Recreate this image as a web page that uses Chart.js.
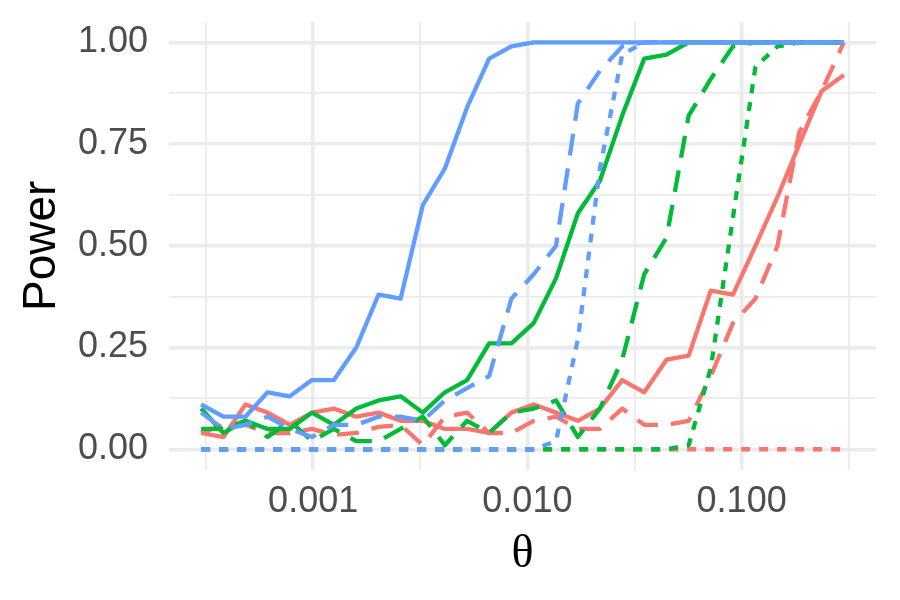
<!DOCTYPE html>
<html>
<head>
<meta charset="utf-8">
<script src="https://cdn.jsdelivr.net/npm/chart.js@4"></script>
<style>
  html, body { margin: 0; padding: 0; background: #fff; }
  #wrap { width: 900px; height: 600px; }
</style>
</head>
<body>
<div id="wrap"><canvas id="powerChart"></canvas></div>
<script>
// grid of theta values (log spaced)
const theta = [0.0003, 0.000381, 0.000483, 0.000613, 0.000778, 0.000987, 0.00125, 0.00159, 0.00202, 0.00256,
               0.00325, 0.00412, 0.00523, 0.00663, 0.00842, 0.0107, 0.0136, 0.0172, 0.0218, 0.0277,
               0.0351, 0.0446, 0.0566, 0.0718, 0.0911, 0.116, 0.147, 0.186, 0.236, 0.3];

// power curves
const redSolid    = [0.04, 0.03, 0.11, 0.09, 0.06, 0.09, 0.10, 0.08, 0.09, 0.07, 0.07, 0.05, 0.05, 0.04, 0.09,
                     0.11, 0.09, 0.07, 0.10, 0.17, 0.14, 0.22, 0.23, 0.39, 0.38, 0.50, 0.62, 0.75, 0.88, 0.92];
const redDashed   = [0.04, 0.06, 0.06, 0.04, 0.04, 0.05, 0.035, 0.04, 0.055, 0.06, 0.01, 0.08, 0.09, 0.04, 0.04,
                     0.07, 0.08, 0.05, 0.05, 0.10, 0.06, 0.06, 0.07, 0.18, 0.31, 0.37, 0.50, 0.78, 0.88, 1.00];
const redDotted   = [0, 0, 0, 0, 0, 0, 0, 0, 0, 0, 0, 0, 0, 0, 0,
                     0, 0, 0, 0, 0, 0, 0, 0, 0, 0, 0, 0, 0, 0, 0];
const greenSolid  = [0.10, 0.04, 0.07, 0.05, 0.05, 0.09, 0.06, 0.10, 0.12, 0.13, 0.09, 0.14, 0.17, 0.26, 0.26,
                     0.31, 0.42, 0.58, 0.66, 0.82, 0.96, 0.97, 1, 1, 1, 1, 1, 1, 1, 1];
const greenDashed = [0.05, 0.05, 0.07, 0.03, 0.07, 0.02, 0.05, 0.02, 0.02, 0.05, 0.08, 0.01, 0.07, 0.04, 0.09,
                     0.10, 0.12, 0.03, 0.10, 0.22, 0.43, 0.52, 0.82, 0.91, 0.99, 1, 1, 1, 1, 1];
const greenDotted = [0, 0, 0, 0, 0, 0, 0, 0, 0, 0, 0, 0, 0, 0, 0,
                     0, 0, 0, 0, 0, 0, 0, 0.01, 0.20, 0.57, 0.94, 0.99, 1, 1, 1];
const blueSolid   = [0.11, 0.08, 0.08, 0.14, 0.13, 0.17, 0.17, 0.25, 0.38, 0.37, 0.60, 0.69, 0.84, 0.96, 0.99,
                     1, 1, 1, 1, 1, 1, 1, 1, 1, 1, 1, 1, 1, 1, 1];
const blueDashed  = [0.09, 0.05, 0.06, 0.08, 0.05, 0.03, 0.06, 0.06, 0.08, 0.08, 0.07, 0.12, 0.15, 0.18, 0.37,
                     0.43, 0.50, 0.85, 0.93, 0.99, 1, 1, 1, 1, 1, 1, 1, 1, 1, 1];
const blueDotted  = [0, 0, 0, 0, 0, 0, 0, 0, 0, 0, 0, 0, 0, 0, 0,
                     0, 0.02, 0.27, 0.69, 0.97, 1, 1, 1, 1, 1, 1, 1, 1, 1, 1];

// axis ticks
const xTickValues = [0.001, 0.01, 0.1];
const xTickLabels = ['0.001', '0.010', '0.100'];
const xMinorTicks = [0.000316, 0.00316, 0.0316, 0.316];
const yTickValues = [0, 0.25, 0.5, 0.75, 1];
const yTickLabels = ['0.00', '0.25', '0.50', '0.75', '1.00'];
const yMinorTicks = [0.125, 0.375, 0.625, 0.875];

const RED = '#F8766D', GREEN = '#00BA38', BLUE = '#619CFF';
const SOLID = [], DASHED = [22, 13], DOTTED = [9, 9];

function serie(values, color, dash) {
    return {
        data: theta.map((t, i) => ({ x: t, y: values[i] })),
        borderColor: color,
        borderWidth: 4.3,
        borderDash: dash,
        borderCapStyle: 'butt',
        borderJoinStyle: 'round',
        pointRadius: 0,
        tension: 0,
        fill: false
    };
}

function findIdx(arr, v) {
    return arr.findIndex(a => Math.abs(a - v) <= Math.abs(a) * 1e-6 + 1e-9);
}

const tickFont = { family: '"Liberation Sans", Arial, sans-serif', size: 36 };

// first dataset is drawn on top
new Chart(document.getElementById('powerChart').getContext('2d'), {
    type: 'line',
    data: {
        datasets: [
            serie(blueSolid, BLUE, SOLID),
            serie(blueDashed, BLUE, DASHED),
            serie(blueDotted, BLUE, DOTTED),
            serie(greenSolid, GREEN, SOLID),
            serie(greenDashed, GREEN, DASHED),
            serie(greenDotted, GREEN, DOTTED),
            serie(redSolid, RED, SOLID),
            serie(redDashed, RED, DASHED),
            serie(redDotted, RED, DOTTED)
        ]
    },
    options: {
        responsive: true,
        maintainAspectRatio: false,
        animation: false,
        events: [],
        layout: { padding: { left: 0, top: 22, right: 24, bottom: 0 } },
        plugins: { legend: { display: false }, tooltip: { enabled: false } },
        scales: {
            x: {
                type: 'logarithmic',
                min: 0.0002124,
                max: 0.4238,
                border: { display: false },
                grid: {
                    color: '#EBEBEB',
                    drawTicks: false,
                    lineWidth: ctx => (ctx.tick && findIdx(xTickValues, ctx.tick.value) >= 0) ? 3.5 : 1.8
                },
                ticks: {
                    autoSkip: false,
                    maxRotation: 0,
                    padding: 11,
                    color: '#4D4D4D',
                    font: tickFont,
                    callback: v => { const k = findIdx(xTickValues, v); return k >= 0 ? xTickLabels[k] : ''; }
                },
                afterBuildTicks: scale => {
                    scale.ticks = [...xMinorTicks, ...xTickValues].sort((a, b) => a - b).map(v => ({ value: v }));
                },
                afterFit: scale => {
                    scale.height = 130.4;
                    scale.paddingLeft = 0;
                    scale.paddingRight = 0;
                },
                title: {
                    display: true,
                    text: 'θ',
                    color: '#000',
                    font: { family: '"Liberation Serif", "DejaVu Serif", serif', size: 46, lineHeight: 1 },
                    padding: { top: 0, bottom: 22 }
                }
            },
            y: {
                type: 'linear',
                min: -0.05,
                max: 1.05,
                border: { display: false },
                grid: {
                    color: '#EBEBEB',
                    drawTicks: false,
                    lineWidth: ctx => (ctx.tick && findIdx(yTickValues, ctx.tick.value) >= 0) ? 3.5 : 1.8
                },
                ticks: {
                    autoSkip: false,
                    padding: 21,
                    color: '#4D4D4D',
                    font: tickFont,
                    callback: v => { const k = findIdx(yTickValues, v); return k >= 0 ? yTickLabels[k] : ''; }
                },
                afterBuildTicks: scale => {
                    scale.ticks = [...yMinorTicks, ...yTickValues].sort((a, b) => a - b).map(v => ({ value: v }));
                },
                afterFit: scale => {
                    scale.width = 169;
                    scale.paddingTop = 0;
                    scale.paddingBottom = 0;
                },
                title: {
                    display: true,
                    text: 'Power',
                    color: '#000',
                    font: { family: '"Liberation Sans", Arial, sans-serif', size: 46, lineHeight: 1 },
                    padding: { top: 19, bottom: 0 }
                }
            }
        }
    }
});
</script>
</body>
</html>
